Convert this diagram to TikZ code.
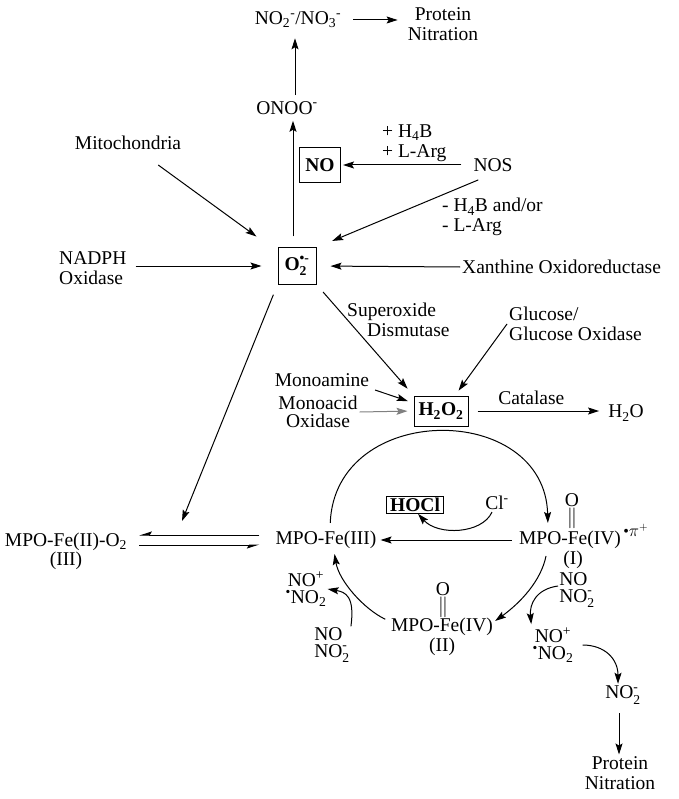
\documentclass[tikz,border=0pt]{standalone}
\usepackage{fontspec}
\setmainfont{Liberation Serif}
\usepackage{amsmath}
\usetikzlibrary{arrows.meta, positioning}

\begin{document}
\begin{tikzpicture}[
        x=1pt, y=-1pt,
        every node/.style={font=\fontsize{19.5}{19.5}\selectfont, inner sep=2pt},
        box/.style={draw, line width=1pt, inner xsep=4pt},
        pair/.style={font=\fontsize{19.5}{17}\selectfont, inner sep=1pt},
        arrow/.style={-{Stealth[length=11pt, width=7pt, inset=2pt]}, line width=1pt},
        harp/.style={-{Stealth[length=11pt, width=7pt, inset=2pt, harpoon, swap]}, line width=1pt}
    ]
        \useasboundingbox (0,0) rectangle (678,799);

        % Top: peroxynitrite branch
        \node (nox) at (298,20) {NO$_\text{2}{}^\text{-}$/NO$_\text{3}{}^\text{-}$};
        \node[align=center] (prot1) at (443,24) {Protein\\Nitration};
        \node (onoo) at (287,108) {ONOO$^\text{-}$};
        \node (mito) at (128,143) {Mitochondria};
        \node[box, minimum width=41, minimum height=35] (no) at (320,165) {\textbf{NO}};
        \node (nos) at (493,165) {NOS};
        \node[align=left, anchor=west] (plus) at (380,143) {+ H$_\text{4}$B\\+ L-Arg};
        \node[align=left, anchor=west] (minus) at (440,217) {- H$_\text{4}$B and/or\\- L-Arg};

        % Superoxide sources
        \node[align=left, anchor=west] (nadph) at (57,268) {NADPH\\Oxidase};
        \node[box, minimum width=38, minimum height=36] (o2) at (297,266) {\textbf{O$_\text{2}^\text{\textbullet-}$}};
        \node[anchor=west] (xo) at (460,267) {Xanthine Oxidoreductase};

        % Hydrogen peroxide
        \node[align=left, anchor=west] (sod) at (345,320) {Superoxide\\\hspace*{20pt}Dismutase};
        \node[align=left, anchor=west] (glu) at (507,324) {Glucose/\\Glucose Oxidase};
        \node (mao) at (322,380) {Monoamine};
        \node[align=center, font=\fontsize{19.5}{18}\selectfont] (mac) at (318,412) {Monoacid\\Oxidase};
        \node[box, minimum width=54, minimum height=30] (h2o2) at (441,411) {\textbf{H$_\text{2}$O$_\text{2}$}};
        \node (h2o) at (626,413) {H$_\text{2}$O};

        % MPO cycle
        \node[box, inner ysep=1.5pt] (hocl) at (415,505) {\textbf{HOCl}};
        \node (cl) at (497,503) {Cl$^\text{-}$};
        \node[align=center, font=\fontsize{19.5}{17}\selectfont] (fe2o2) at (66,551) {MPO-Fe(II)-O$_\text{2}$\\(III)};
        \node (fe3) at (326,540) {MPO-Fe(III)};
        \node (fe4) at (570,540) {MPO-Fe(IV)};
        \node[anchor=west, inner sep=0pt, font=\fontsize{16}{16}\selectfont] (fe4pi) at ([yshift=10pt]fe4.east) {\textbullet$\pi^{+}$};
        \node[inner sep=0pt] (fe4o) at (572,500) {O};
        \node[inner sep=0pt] (fe4b) at (572,518) {$\|$};
        \node (fe4n) at (573,560) {(I)};
        \node (fe5) at (442,627) {MPO-Fe(IV)};
        \node[inner sep=0pt] (fe5o) at (443,589) {O};
        \node[inner sep=0pt] (fe5b) at (443,607) {$\|$};
        \node (fe5n) at (442,647) {(II)};

        % Nitrite oxidation
        \node[pair, align=center] (lnop) at (306,589) {NO$^\text{+}$\\$^\text{\textbullet}$NO$_\text{2}$};
        \node[pair, align=left] (lno) at (332,645) {NO\\NO$_\text{2}^\text{-}$};
        \node[pair, align=left] (rno) at (577,590) {NO\\NO$_\text{2}^\text{-}$};
        \node[pair, align=center] (rnop) at (553,645) {NO$^\text{+}$\\$^\text{\textbullet}$NO$_\text{2}$};
        \node (no2m) at (623,695) {NO$_\text{2}^\text{-}$};
        \node[align=center] (prot2) at (620,773) {Protein\\Nitration};
        \coordinate (eqin) at (182,521);

        % Arrows
        \draw[arrow, shorten <=4pt, shorten >=8pt] ([xshift=8pt]onoo.north) -- ([xshift=8pt]onoo.north |- nox.south);
        \draw[arrow, shorten <=10pt, shorten >=8pt] (nox.east) -- (nox.east -| prot1.west);
        \draw[arrow, shorten <=11pt, shorten >=4pt] ([xshift=-4pt]o2.north) -- ([xshift=-4pt]o2.north |- onoo.south);
        \draw[arrow, shorten <=22pt, shorten >=26pt] (mito) -- (o2);
        \draw[arrow, shorten <=10pt, shorten >=2pt] (nos.west) -- (no.east);
        \draw[arrow, shorten <=16pt, shorten >=17pt] (nos.south) -- (o2.north east);
        \draw[arrow, shorten <=7pt, shorten >=16pt] (nadph.east |- o2.west) -- (o2.west);
        \draw[arrow, shorten >=14pt] (xo.west) -- (o2.east);
        \draw[arrow, shorten <=10pt, shorten >=9pt] (o2.south east) -- (h2o2.north west);
        \draw[arrow, shorten <=11pt] (o2.south west) -- (eqin);
        \draw[arrow, shorten >=6pt] (glu.west) -- ([xshift=14pt]h2o2.north);
        \draw[arrow, shorten <=4pt, shorten >=6pt] (mao.south east) -- ([yshift=8pt]h2o2.west);
        \draw[arrow, gray, shorten >=6pt] (mac.east) -- (h2o2.west);
        \draw[arrow, shorten <=9pt, shorten >=7pt] (h2o2.east) -- (h2o2.east -| h2o.west)
            node[midway, above=4pt, xshift=-6pt] (cat) {Catalase};

        \draw[arrow, shorten <=6pt, shorten >=6pt] ([xshift=4pt]fe3.north) .. controls +(5,-128) and +(-3,-128) .. ([xshift=-22pt]fe4.north);
        \draw[arrow, shorten <=5pt, shorten >=2pt] (fe4.west) -- (fe3.east);
        \draw[arrow] ([xshift=-5pt]cl.south) .. controls +(-10,22) and +(20,22) .. ([xshift=3pt]hocl.south);
        \draw[harp, shorten <=14pt, shorten >=10pt] ([yshift=5pt]fe3.west) -- ([yshift=16pt]fe2o2.east);
        \draw[harp, shorten <=10pt, shorten >=14pt] ([yshift=6pt]fe2o2.east) -- ([yshift=-5pt]fe3.west);

        \draw[arrow, shorten <=5pt] ([xshift=-23pt]fe4.south) .. controls +(-6,30) and +(25,-18) .. ([yshift=6pt]fe5.east);
        \draw[arrow, shorten <=4pt, shorten >=3pt] ([yshift=6pt]fe5.west) .. controls +(-25,-12) and +(5,30) .. ([xshift=8pt]fe3.south);
        \draw[arrow, shorten >=2pt] ([yshift=4pt]rno.west) .. controls +(-22,3) and +(-2,-22) .. (rnop.north west);
        \draw[arrow] (lno.north east) .. controls +(4,-30) and +(18,3) .. (lnop.east);
        \draw[arrow, shorten <=8pt] (rnop.east) .. controls +(30,0) and +(0,-25) .. ([xshift=-5pt]no2m.north);
        \draw[arrow, shorten <=7pt] ([xshift=-4pt]no2m.south) -- ([xshift=-4pt]no2m.south |- prot2.north);
    \end{tikzpicture}
\end{document}
